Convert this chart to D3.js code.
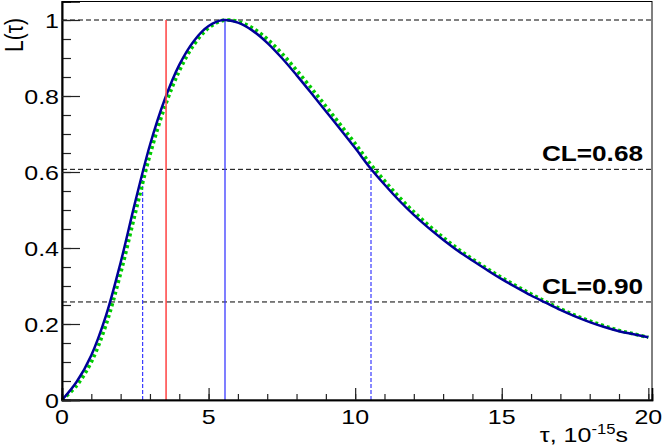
<!DOCTYPE html>
<html><head><meta charset="utf-8">
<script src="https://cdn.jsdelivr.net/npm/d3@7"></script>
<style>
body{margin:0;background:#fff}
svg{display:block}
text{font-family:"Liberation Sans",Arial,Helvetica,sans-serif;fill:#000}
</style>
</head><body>
<svg id="c" width="664" height="447"></svg>
<script>
// ---- data ----
const tau = [0,0.5,1,1.5,2,2.5,3,3.5,4,4.5,5,5.5,6,6.5,7,7.5,8,8.5,9,9.5,10,
  10.5,11,11.5,12,12.5,13,13.5,14,14.5,15,15.5,16,16.5,17,17.5,18,18.5,19,19.5,20];
const likelihood = [0,0.048,0.118,0.222,0.362,0.522,0.671,0.790,0.882,0.945,0.984,1.000,0.993,0.972,0.940,0.900,0.855,0.808,0.760,0.712,0.663,
  0.612,0.567,0.525,0.487,0.453,0.422,0.393,0.367,0.342,0.318,0.296,0.275,0.256,0.237,0.220,0.205,0.192,0.181,0.173,0.165];
const likelihoodAlt = [0,0.038,0.100,0.198,0.334,0.492,0.645,0.770,0.866,0.935,0.979,0.999,0.996,0.979,0.950,0.912,0.868,0.821,0.773,0.724,0.675,
  0.623,0.577,0.534,0.495,0.460,0.428,0.398,0.371,0.346,0.322,0.300,0.279,0.259,0.240,0.223,0.208,0.195,0.183,0.174,0.165];
const xTickValues = [0,5,10,15,20];
const xTickLabels = ["0","5","10","15","20"];
const yTickValues = [0,0.2,0.4,0.6,0.8,1];
const yTickLabels = ["0","0.2","0.4","0.6","0.8","1"];
const levelValues = [1.0, 0.607, 0.258];
const clTexts = ["CL=0.68","CL=0.90"];
const clValues = [0.607, 0.258];
const tauBest = 5.56, tauRed = 3.55, tauLow = 2.75, tauHigh = 10.54;

// ---- layout ----
const svg = d3.select("#c");
const L = 62, R = 652, T = 1.5, B = 400;
const SX = 1.19; // horizontal text stretch
const x = d3.scaleLinear().domain([0, 20.125]).range([L, R]);
const y = d3.scaleLinear().domain([0, 1.0487]).range([B, T]);

// dashed horizontal levels
svg.append("g").selectAll("line").data(levelValues).join("line")
  .attr("x1", L).attr("x2", R).attr("y1", d => y(d)).attr("y2", d => y(d))
  .attr("stroke", "#000").attr("stroke-width", 1).attr("stroke-dasharray", "5,3");

// interval boundaries (blue dashed)
svg.append("g").selectAll("line").data([tauLow, tauHigh]).join("line")
  .attr("x1", d => x(d)).attr("x2", d => x(d)).attr("y1", y(0)).attr("y2", y(clValues[0]))
  .attr("stroke", "#3a3aff").attr("stroke-width", 1.2).attr("stroke-dasharray", "4,2");

// best value (blue solid)
svg.append("line").attr("x1", x(tauBest)).attr("x2", x(tauBest)).attr("y1", y(0)).attr("y2", y(1))
  .attr("stroke", "#3a3aff").attr("stroke-width", 1.3);

const pts = tau.map((t, i) => [t, likelihood[i]]);
const ptsAlt = tau.map((t, i) => [t, likelihoodAlt[i]]);
const line = d3.line().x(d => x(d[0])).y(d => y(d[1])).curve(d3.curveCatmullRom.alpha(0.5));

svg.append("path").attr("d", line(ptsAlt)).attr("fill", "none")
  .attr("stroke", "#00cc00").attr("stroke-width", 3.6).attr("stroke-dasharray", "3,3");
svg.append("path").attr("d", line(pts)).attr("fill", "none")
  .attr("stroke", "#000099").attr("stroke-width", 2.5);

// red line
svg.append("line").attr("x1", x(tauRed)).attr("x2", x(tauRed)).attr("y1", y(0)).attr("y2", y(1))
  .attr("stroke", "#ff4d4d").attr("stroke-width", 1.6);

// frame
svg.append("rect").attr("x", L).attr("y", T).attr("width", R - L).attr("height", B - T)
  .attr("fill", "none").attr("stroke", "#000").attr("stroke-width", 1);

// axes ticks
const gx = svg.append("g").attr("transform", `translate(0,${B})`);
gx.call(d3.axisBottom(x).tickValues(d3.range(0, 21, 1)).tickSize(-6).tickFormat(""));
const gx2 = svg.append("g").attr("transform", `translate(0,${B})`);
gx2.call(d3.axisBottom(x).tickValues(xTickValues).tickSize(-12).tickFormat(""));
const gy = svg.append("g").attr("transform", `translate(${L},0)`);
gy.call(d3.axisLeft(y).tickValues(d3.range(0, 1.001, 0.05)).tickSize(-9).tickFormat(""));
const gy2 = svg.append("g").attr("transform", `translate(${L},0)`);
gy2.call(d3.axisLeft(y).tickValues(yTickValues).tickSize(-18).tickFormat(""));
svg.selectAll(".domain").attr("stroke", "#000").attr("stroke-width", 1.6);
svg.selectAll(".tick line").attr("stroke", "#222").attr("stroke-width", 1.2);

// tick labels
svg.append("g").selectAll("text").data(xTickValues).join("text")
  .attr("transform", d => `translate(${x(d)},${424}) scale(${SX},1)`)
  .attr("text-anchor", "middle").attr("font-size", 21)
  .text((d, i) => xTickLabels[i]);
svg.append("g").selectAll("text").data(yTickValues).join("text")
  .attr("transform", d => `translate(${59},${y(d) + 7.5}) scale(${SX},1)`)
  .attr("text-anchor", "end").attr("font-size", 21)
  .text((d, i) => yTickLabels[i]);

// CL labels
svg.append("g").selectAll("text").data(clValues).join("text")
  .attr("transform", d => `translate(643,${y(d) - 8}) scale(${SX},1)`)
  .attr("text-anchor", "end").attr("font-size", 22).attr("font-weight", "bold")
  .text((d, i) => clTexts[i]);

// axis titles
const xt = svg.append("text").attr("transform", `translate(628,442) scale(${SX},1)`)
  .attr("text-anchor", "end").attr("font-size", 21);
xt.append("tspan").text("\u03c4, 10");
xt.append("tspan").attr("font-size", 14).attr("dy", -8).text("-15");
xt.append("tspan").attr("dy", 8).text("s");

svg.append("text").attr("transform", `translate(23,18) scale(${SX},1) rotate(-90)`)
  .attr("text-anchor", "end").attr("font-size", 21).text("L(\u03c4)");
</script>
</body></html>
